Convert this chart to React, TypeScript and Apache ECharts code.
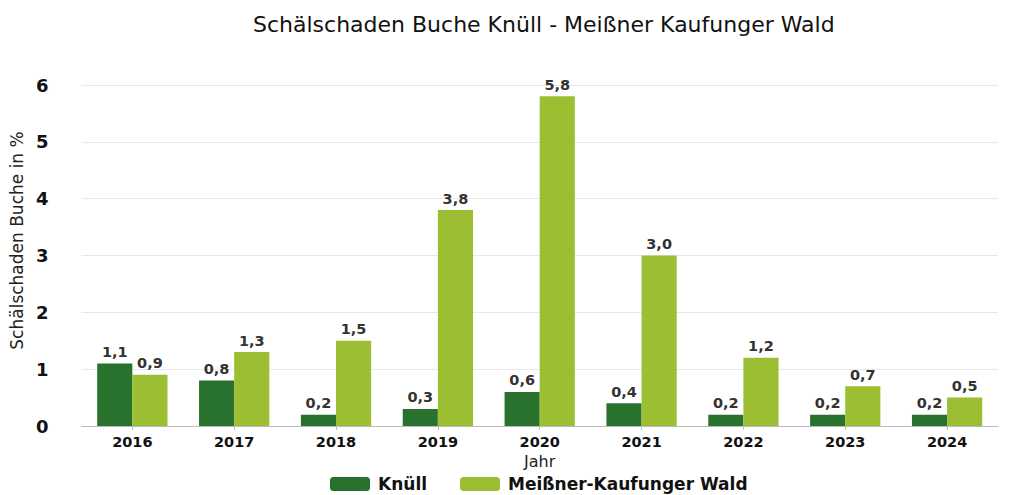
import React, { useEffect, useRef } from "react";
import * as echarts from "echarts";

const years = ["2016", "2017", "2018", "2019", "2020", "2021", "2022", "2023", "2024"];
const knuell = [1.1, 0.8, 0.2, 0.3, 0.6, 0.4, 0.2, 0.2, 0.2];
const meissner = [0.9, 1.3, 1.5, 3.8, 5.8, 3.0, 1.2, 0.7, 0.5];

const FONT = "DejaVu Sans";

export default function App() {
  const ref = useRef<HTMLDivElement>(null);
  useEffect(() => {
    const chart = echarts.init(ref.current!, null, { renderer: "svg" });
    const label = {
      show: true,
      position: "top",
      distance: 4,
      fontFamily: FONT,
      fontWeight: "bold",
      fontSize: 14.5,
      color: "#333",
      formatter: (p: any) => p.value.toFixed(1).replace(".", ","),
    };
    chart.setOption({
      animation: false,
      textStyle: { fontFamily: FONT },
      title: {
        text: "Schälschaden Buche Knüll - Meißner Kaufunger Wald",
        left: 248,
        top: 8,
        textStyle: { fontFamily: FONT, fontSize: 22, fontWeight: "normal", color: "#111" },
      },
      legend: {
        top: 475,
        left: 330,
        padding: 0,
        itemWidth: 40,
        itemHeight: 14,
        itemGap: 33,
        textStyle: { fontFamily: FONT, fontWeight: "bold", fontSize: 17, lineHeight: 18, color: "#111", padding: [0, 0, 0, 3] },
        data: ["Knüll", "Meißner-Kaufunger Wald"],
      },
      grid: { left: 79, right: 18, top: 85, bottom: 69, containLabel: false },
      xAxis: {
        type: "category",
        data: years,
        name: "Jahr",
        nameLocation: "middle",
        nameGap: 27,
        nameTextStyle: { fontFamily: FONT, fontSize: 16, color: "#222" },
        axisLine: { lineStyle: { color: "#bbb" } },
        axisTick: { show: true, alignWithLabel: true, length: 4, lineStyle: { color: "#bbb" } },
        axisLabel: { fontFamily: FONT, fontWeight: "bold", fontSize: 14.5, color: "#111", margin: 8 },
      },
      yAxis: {
        type: "value",
        min: 0,
        max: 6,
        interval: 1,
        name: "Schälschaden Buche in %",
        nameLocation: "middle",
        nameGap: 55,
        nameTextStyle: { fontFamily: FONT, fontSize: 17, color: "#222", padding: [0, 0, 0, 30] },
        axisLine: { show: false },
        axisTick: { show: false },
        splitLine: { lineStyle: { color: "#e8e8e8" } },
        axisLabel: { fontFamily: FONT, fontWeight: "bold", fontSize: 18, color: "#111", margin: 33 },
      },
      series: [
        {
          name: "Knüll",
          type: "bar",
          data: knuell,
          barWidth: "34.5%",
          barGap: "0%",
          itemStyle: { color: "#29722d" },
          label,
        },
        {
          name: "Meißner-Kaufunger Wald",
          type: "bar",
          data: meissner,
          barWidth: "34.5%",
          barGap: "0%",
          itemStyle: { color: "#9bbe32" },
          label,
        },
      ],
    });
    return () => chart.dispose();
  }, []);
  return (
    <div
      ref={ref}
      style={{ position: "absolute", left: 0, top: 0, width: 1016, height: 495 }}
    />
  );
}
